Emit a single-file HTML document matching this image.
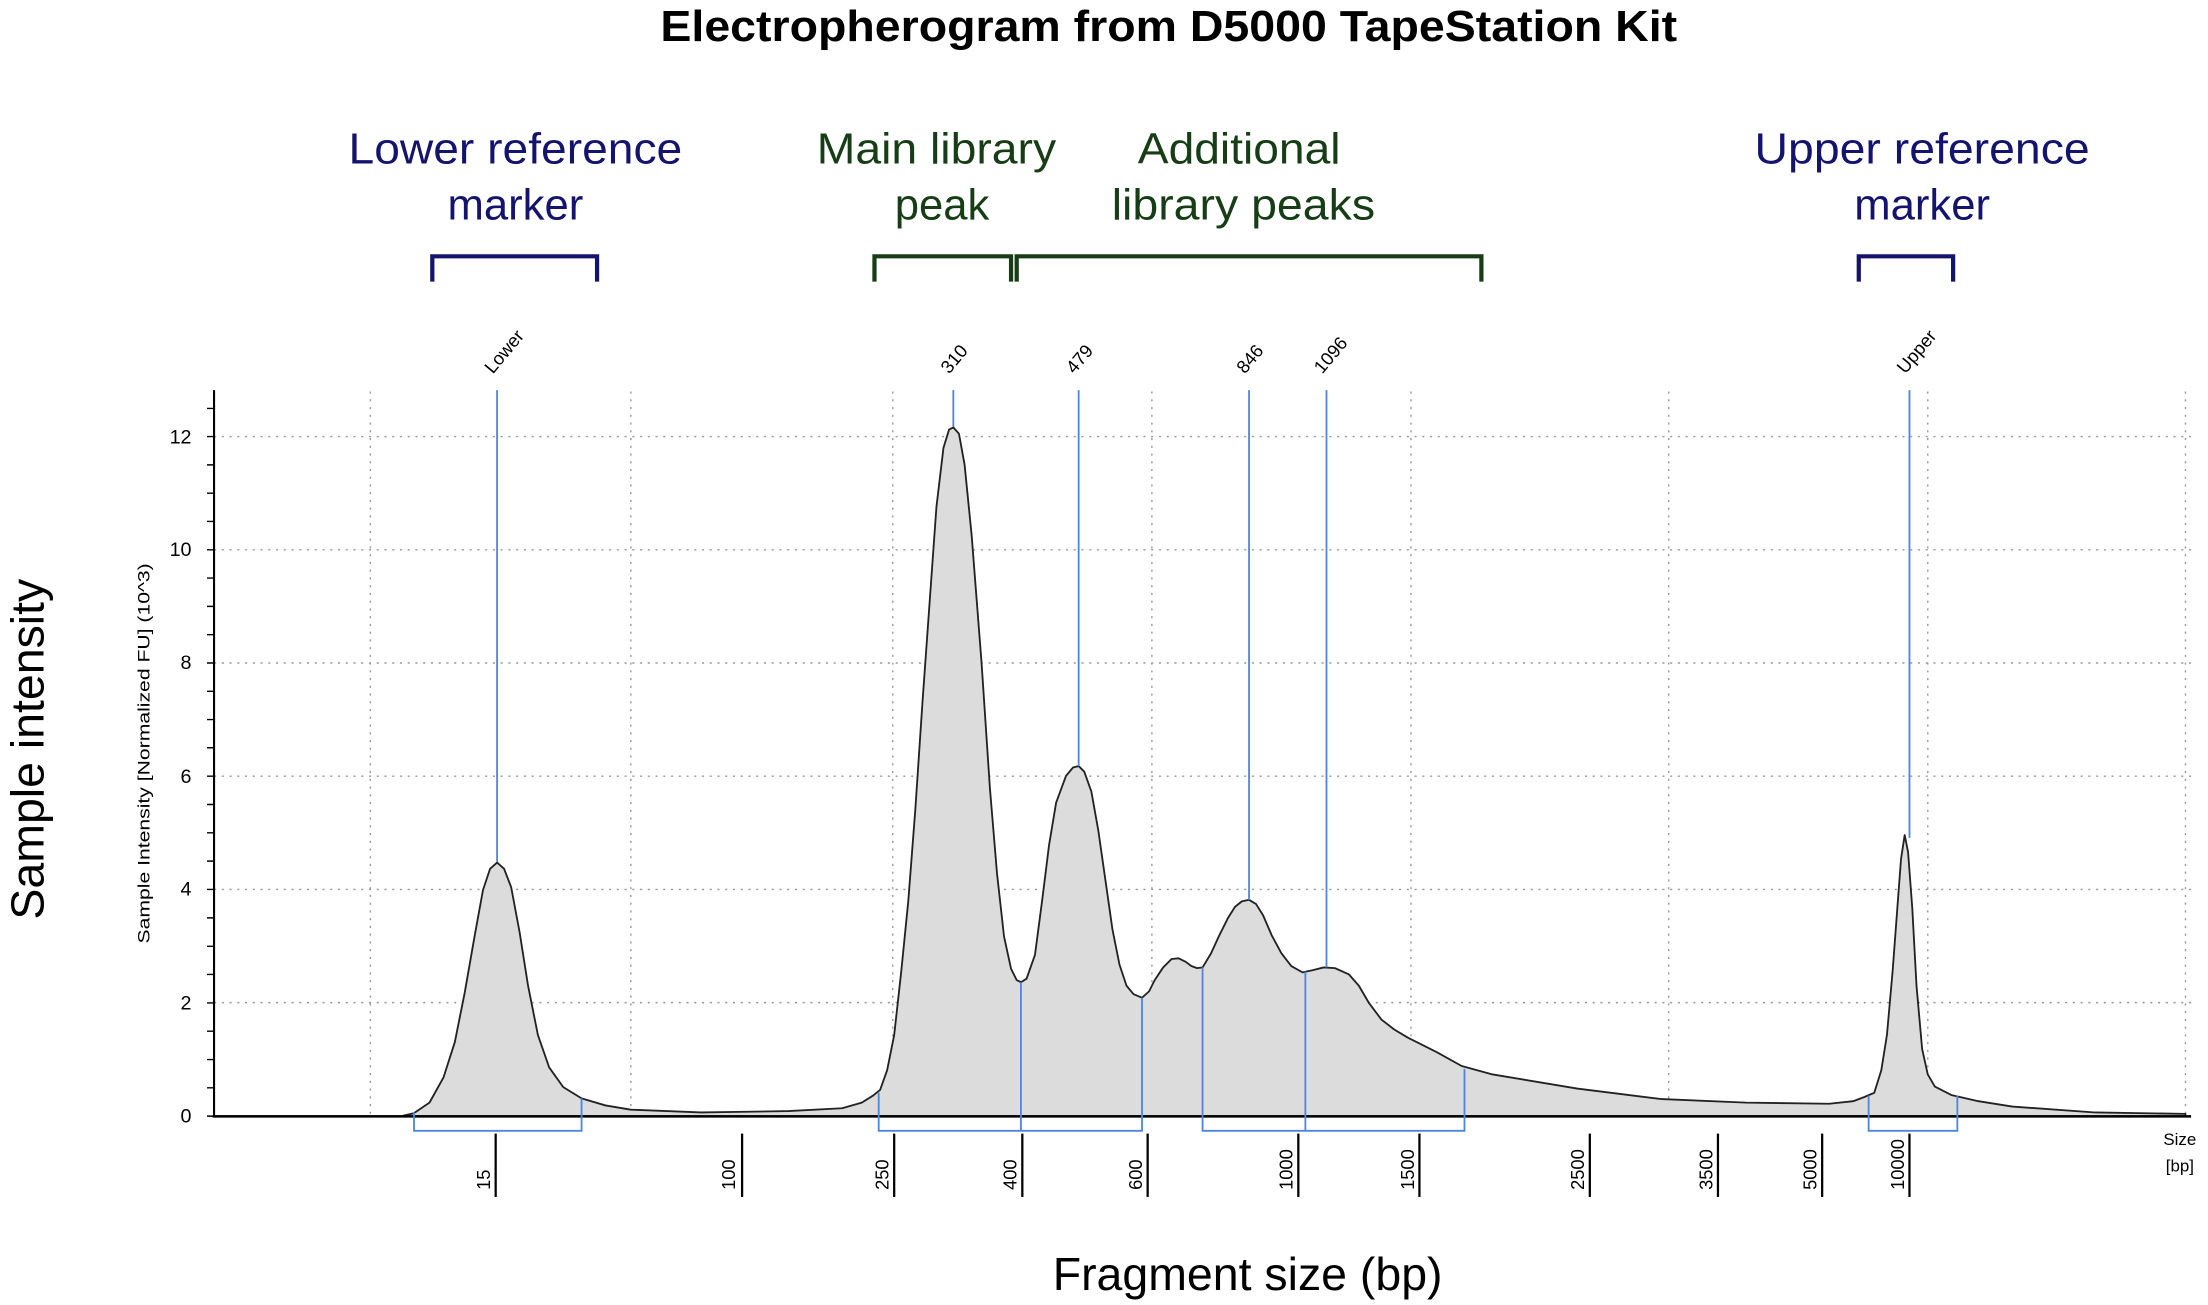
<!DOCTYPE html>
<html><head><meta charset="utf-8"><style>
html,body{margin:0;padding:0;background:#fff;}
svg{display:block;}
text{font-family:"Liberation Sans",sans-serif;}
</style></head><body>
<svg width="2208" height="1305" viewBox="0 0 1568 926.7" xmlns="http://www.w3.org/2000/svg">
<rect width="1568" height="926.7" fill="#fff"/>
<text x="830" y="29" font-size="31" font-weight="bold" text-anchor="middle" fill="#000" textLength="722" lengthAdjust="spacingAndGlyphs">Electropherogram from D5000 TapeStation Kit</text>
<g font-size="31" text-anchor="middle">
<text x="366" y="116" fill="#14146e" textLength="237" lengthAdjust="spacingAndGlyphs">Lower reference</text>
<text x="366" y="156" fill="#14146e">marker</text>
<text x="665" y="116" fill="#163d16" textLength="170" lengthAdjust="spacingAndGlyphs">Main library</text>
<text x="669" y="156" fill="#163d16">peak</text>
<text x="880" y="116" fill="#163d16" textLength="144" lengthAdjust="spacingAndGlyphs">Additional</text>
<text x="883" y="156" fill="#163d16" textLength="187" lengthAdjust="spacingAndGlyphs">library peaks</text>
<text x="1365" y="116" fill="#14146e" textLength="238" lengthAdjust="spacingAndGlyphs">Upper reference</text>
<text x="1365" y="156" fill="#14146e">marker</text>
</g>
<g fill="none" stroke-width="3">
<path d="M307,200 V182 H424 V200" stroke="#14146e"/>
<path d="M621,200 V182 H718 V200" stroke="#163d16"/>
<path d="M722,200 V182 H1052 V200" stroke="#163d16"/>
<path d="M1320,200 V182 H1387 V200" stroke="#14146e"/>
</g>
<!-- grid -->
<g stroke="#999" stroke-width="1" stroke-dasharray="1.5,4">
<line x1="263" y1="278" x2="263" y2="792"/><line x1="448" y1="278" x2="448" y2="792"/>
<line x1="634" y1="278" x2="634" y2="792"/><line x1="818" y1="278" x2="818" y2="792"/>
<line x1="1002" y1="278" x2="1002" y2="792"/><line x1="1185" y1="278" x2="1185" y2="792"/>
<line x1="1369" y1="278" x2="1369" y2="792"/><line x1="1552" y1="278" x2="1552" y2="792"/>
<line x1="152" y1="310" x2="1556" y2="310"/><line x1="152" y1="390.4" x2="1556" y2="390.4"/>
<line x1="152" y1="470.8" x2="1556" y2="470.8"/><line x1="152" y1="551.2" x2="1556" y2="551.2"/>
<line x1="152" y1="631.6" x2="1556" y2="631.6"/><line x1="152" y1="712" x2="1556" y2="712"/>
</g>
<!-- curve -->
<polygon fill="#dcdcdc" stroke="#222" stroke-width="1.3" stroke-linejoin="round" points="152,792.6 285,792.6 294,790.5 305,783 315,765 323,740 330,705 337,665 343,632 348,617 353,612.5 358,617 363,630 369,662 375,700 382,735 390,758 400,772 413,780 430,785 448,788 498,790 560,789 598,787 612,783 620,778 625,774 630,760 635,735 640,690 645,640 650,575 655,500 660,430 665,360 670,318 674,305 677,303.5 681,308 685,330 690,380 697,470 703,560 708,620 713,665 718,688 722,696 725,697.5 729,695 735,678 740,640 745,600 750,570 757,551 762,545 766,544 770,548 775,562 780,590 785,625 790,660 795,685 800,700 805,706 811,708.5 816,704 820,696 826,687 832,681 837,680.5 842,683 846,686 850,687.5 854,687 860,677 866,664 872,652 877,644 882,640 887,639 892,642 897,650 903,664 910,677 917,686 925,690.5 932,689 940,687 948,687.5 958,692 965,700 972,712 981,724 990,731 1000,737 1020,747 1038,757 1060,763 1120,773 1180,780.5 1240,783 1299,783.8 1316,782 1324,779 1331,776 1336,760 1340,735 1344,690 1347,650 1350,610 1352.6,593 1355,605 1358,645 1361,700 1365,745 1369,763 1374,771.6 1386,777.7 1405,782 1429,785.8 1488,790 1552,791 1552,792.6"/>
<!-- axes -->
<line x1="152" y1="277" x2="152" y2="793" stroke="#000" stroke-width="1.5"/>
<line x1="151" y1="792.8" x2="1556" y2="792.8" stroke="#000" stroke-width="1.8"/>
<g stroke="#000" stroke-width="1">
<path d="M147,792.6h5M147,772.5h5M147,752.4h5M147,732.3h5M147,712.2h5M147,692h5M147,672h5M147,651.8h5M147,631.6h5M147,611.5h5M147,591.4h5M147,571.3h5M147,551.2h5M147,531h5M147,511h5M147,490.9h5M147,470.8h5M147,450.7h5M147,430.6h5M147,410.5h5M147,390.4h5M147,370.3h5M147,350.2h5M147,330.1h5M147,310h5M147,290h5"/>
</g>
<g font-size="14" text-anchor="end" fill="#000">
<text x="136" y="797">0</text><text x="136" y="717">2</text><text x="136" y="636">4</text>
<text x="136" y="556">6</text><text x="136" y="475">8</text><text x="136" y="395">10</text><text x="136" y="315">12</text>
</g>
<text transform="translate(106,535) rotate(-90)" font-size="12" text-anchor="middle" fill="#000" textLength="270" lengthAdjust="spacingAndGlyphs">Sample Intensity [Normalized FU] (10^3)</text>
<text transform="translate(31,532) rotate(-90)" font-size="33" text-anchor="middle" fill="#000">Sample intensity</text>
<text x="886" y="916" font-size="33" text-anchor="middle" fill="#000">Fragment size (bp)</text>
<!-- blue lines -->
<g stroke="#4f86e0" stroke-width="1.3" fill="none">
<line x1="353" y1="277" x2="353" y2="612"/><line x1="677" y1="277" x2="677" y2="303"/>
<line x1="766" y1="277" x2="766" y2="544"/><line x1="887" y1="277" x2="887" y2="639"/>
<line x1="942" y1="277" x2="942" y2="687"/><line x1="1356" y1="277" x2="1356" y2="595"/>
<path d="M294,790 V803 H413 V780"/>
<path d="M624,776 V803 H811 V708.5"/>
<line x1="725" y1="697.5" x2="725" y2="803"/>
<path d="M854,687 V803 H1040 V759"/>
<line x1="927" y1="690" x2="927" y2="803"/>
<path d="M1327,778 V803 H1390 V778"/>
</g>
<!-- peak labels -->
<g font-size="13" fill="#000">
<text transform="translate(350,266) rotate(-50)">Lower</text>
<text transform="translate(674,266) rotate(-50)">310</text>
<text transform="translate(763,266) rotate(-50)">479</text>
<text transform="translate(884,266) rotate(-50)">846</text>
<text transform="translate(939,266) rotate(-50)">1096</text>
<text transform="translate(1353,266) rotate(-50)">Upper</text>
</g>
<!-- x ticks -->
<g stroke="#000" stroke-width="1.6">
<line x1="352" y1="805" x2="352" y2="850"/><line x1="527" y1="805" x2="527" y2="850"/>
<line x1="635" y1="805" x2="635" y2="850"/><line x1="726" y1="805" x2="726" y2="850"/>
<line x1="815" y1="805" x2="815" y2="850"/><line x1="922" y1="805" x2="922" y2="850"/>
<line x1="1008" y1="805" x2="1008" y2="850"/><line x1="1129" y1="805" x2="1129" y2="850"/>
<line x1="1220" y1="805" x2="1220" y2="850"/><line x1="1294" y1="805" x2="1294" y2="850"/>
<line x1="1356" y1="805" x2="1356" y2="850"/>
</g>
<g font-size="13" fill="#000">
<text transform="translate(348,845) rotate(-90)">15</text>
<text transform="translate(522,845) rotate(-90)">100</text>
<text transform="translate(631,845) rotate(-90)">250</text>
<text transform="translate(722,845) rotate(-90)">400</text>
<text transform="translate(811,845) rotate(-90)">600</text>
<text transform="translate(918,845) rotate(-90)">1000</text>
<text transform="translate(1004,845) rotate(-90)">1500</text>
<text transform="translate(1125,845) rotate(-90)">2500</text>
<text transform="translate(1216,845) rotate(-90)">3500</text>
<text transform="translate(1290,845) rotate(-90)">5000</text>
<text transform="translate(1352,845) rotate(-90)">10000</text>
</g>
<text x="1548" y="813" font-size="12" text-anchor="middle" fill="#000">Size</text>
<text x="1548" y="832" font-size="12" text-anchor="middle" fill="#000">[bp]</text>
</svg>
</body></html>
